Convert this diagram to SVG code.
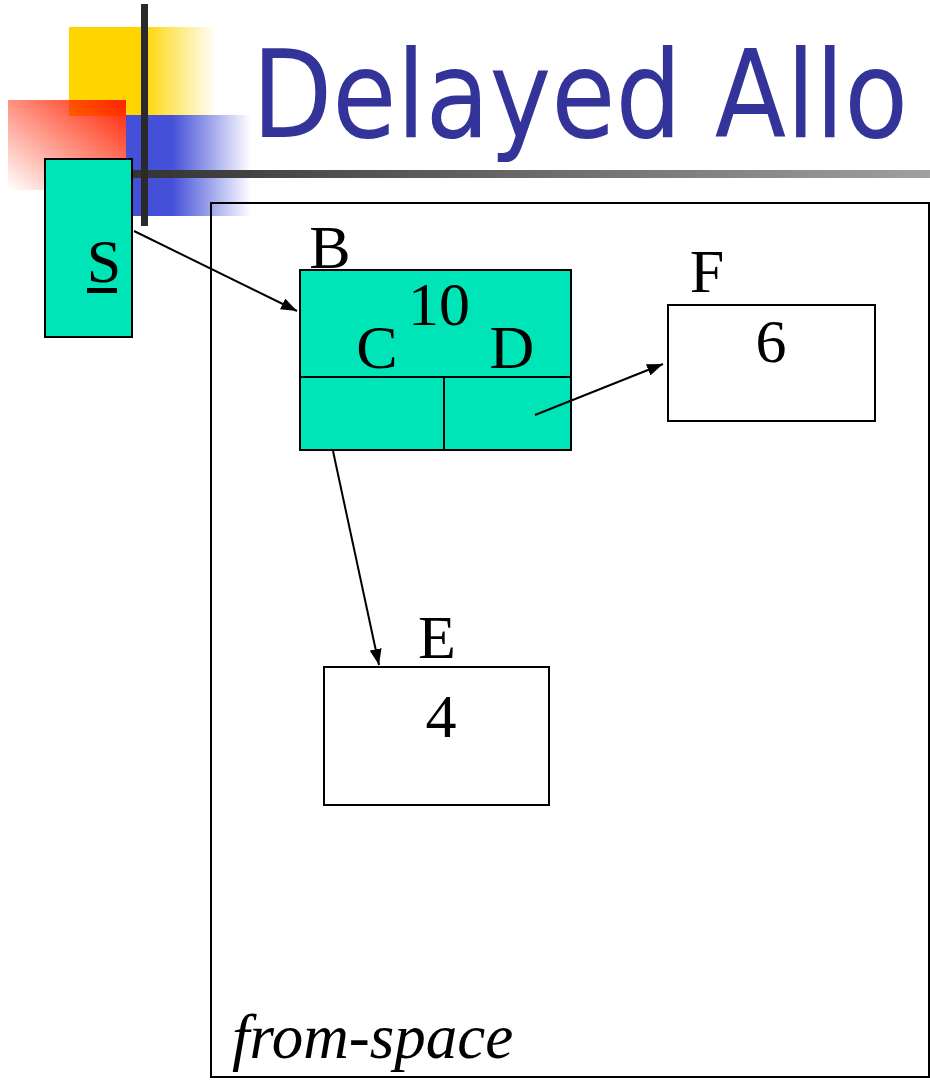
<svg xmlns="http://www.w3.org/2000/svg" width="930" height="1080" viewBox="0 0 930 1080">
<defs>
<linearGradient id="gy" x1="0" y1="0" x2="1" y2="0">
<stop offset="0" stop-color="#FFD500"/><stop offset="0.5" stop-color="#FFD500"/><stop offset="1" stop-color="#FFD500" stop-opacity="0"/>
</linearGradient>
<linearGradient id="gb" x1="0" y1="0" x2="1" y2="0">
<stop offset="0" stop-color="#4450D8"/><stop offset="0.37" stop-color="#4450D8"/><stop offset="1" stop-color="#4450D8" stop-opacity="0"/>
</linearGradient>
<linearGradient id="gr" x1="1" y1="0" x2="0" y2="1">
<stop offset="0" stop-color="#FF2200"/><stop offset="1" stop-color="#FF2200" stop-opacity="0"/>
</linearGradient>
<linearGradient id="gh" x1="0" y1="0" x2="1" y2="0">
<stop offset="0" stop-color="#333333"/><stop offset="1" stop-color="#A0A0A0"/>
</linearGradient>
<marker id="ah" viewBox="0 0 16 12" refX="16" refY="6" markerWidth="16" markerHeight="12" markerUnits="userSpaceOnUse" orient="auto">
<path d="M0,0 L16,6 L0,12 z" fill="#000"/>
</marker>
<style>
.lbl{font-family:"Liberation Serif","Times New Roman",serif;font-size:62px;fill:#000;text-anchor:middle}
.box{stroke:#000;stroke-width:2}
.conn{stroke:#000;stroke-width:2;fill:none}
</style>
</defs>
<g id="decoration">
<rect x="69" y="27" width="147" height="89" fill="url(#gy)"/>
<rect x="126" y="115" width="125" height="101" fill="url(#gb)"/>
<rect x="8" y="100" width="118" height="90" fill="url(#gr)"/>
<rect x="130" y="170" width="800" height="8" fill="url(#gh)"/>
<rect x="141" y="4" width="7" height="222" fill="#2a2a2a"/>
</g>
<text id="title" x="252" y="137" font-family="'DejaVu Sans',sans-serif" font-size="122" fill="#333399" textLength="656" lengthAdjust="spacingAndGlyphs">Delayed Allo</text>
<g id="from-space">
<rect x="211" y="203" width="718" height="874" fill="none" class="box"/>
<text x="232" y="1058" font-family="'Liberation Serif',serif" font-style="italic" font-size="63" fill="#000">from-space</text>
</g>
<g id="S">
<rect x="45" y="159" width="87" height="178" fill="#00E5B8" class="box"/>
<text x="104" y="282" class="lbl">S</text>
<rect x="87" y="288" width="30" height="5" fill="#000"/>
</g>
<g id="B">
<rect x="300" y="270" width="271" height="180" fill="#00E5B8" class="box"/>
<line x1="300" y1="377" x2="571" y2="377" class="box"/>
<line x1="444" y1="377" x2="444" y2="450" class="box"/>
<text x="330" y="268" class="lbl">B</text>
<text x="439" y="325" class="lbl">10</text>
<text x="377" y="368" class="lbl">C</text>
<text x="512" y="368" class="lbl">D</text>
</g>
<g id="F">
<rect x="668" y="305" width="207" height="116" fill="#fff" class="box"/>
<text x="707" y="292" class="lbl">F</text>
<text x="771" y="362" class="lbl">6</text>
</g>
<g id="E">
<rect x="324" y="667" width="225" height="138" fill="#fff" class="box"/>
<text x="437" y="658" class="lbl">E</text>
<text x="441" y="737" class="lbl">4</text>
</g>
<g id="connectors">
<line x1="134" y1="231" x2="297" y2="311" class="conn" marker-end="url(#ah)"/>
<line x1="535" y1="415" x2="663" y2="364" class="conn" marker-end="url(#ah)"/>
<line x1="333" y1="451" x2="379" y2="665" class="conn" marker-end="url(#ah)"/>
</g>
</svg>
